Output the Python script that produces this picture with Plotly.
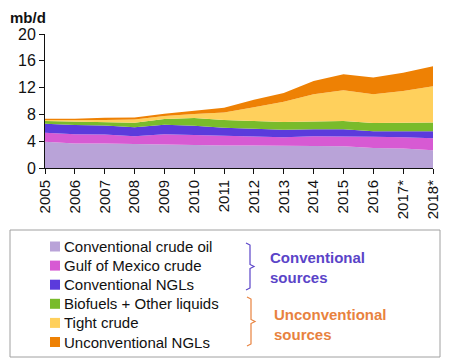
import plotly.graph_objects as go

years = ["2005", "2006", "2007", "2008", "2009", "2010", "2011", "2012",
         "2013", "2014", "2015", "2016", "2017*", "2018*"]

conv_crude = [3.9, 3.65, 3.65, 3.55, 3.45, 3.35, 3.35, 3.35, 3.35, 3.35, 3.25, 3.0, 2.9, 2.65]
gulf_mexico = [1.35, 1.4, 1.35, 1.2, 1.6, 1.6, 1.4, 1.3, 1.25, 1.4, 1.5, 1.65, 1.7, 1.8]
conv_ngl = [1.35, 1.35, 1.35, 1.35, 1.4, 1.35, 1.25, 1.2, 1.1, 1.05, 1.05, 0.85, 0.9, 1.05]
biofuels = [0.4, 0.5, 0.5, 0.65, 0.85, 1.15, 1.15, 1.1, 1.15, 1.15, 1.2, 1.2, 1.3, 1.3]
tight_crude = [0.15, 0.2, 0.3, 0.5, 0.45, 0.6, 1.15, 2.1, 3.05, 4.05, 4.6, 4.3, 4.7, 5.4]
unconv_ngl = [0.2, 0.25, 0.35, 0.3, 0.35, 0.5, 0.7, 1.15, 1.3, 2.0, 2.4, 2.5, 2.7, 3.0]

series_names = ["Conventional crude oil", "Gulf of Mexico crude", "Conventional NGLs",
                "Biofuels + Other liquids", "Tight crude", "Unconventional NGLs"]
series_values = [conv_crude, gulf_mexico, conv_ngl, biofuels, tight_crude, unconv_ngl]
series_colors = ["#b9a3d8", "#d75ad3", "#5b3bdc", "#79bb2b", "#ffd05c", "#ee8104"]

FONT = "Arial, Liberation Sans, sans-serif"
xs = list(range(len(years)))

fig = go.Figure()
for name, vals, col in zip(series_names, series_values, series_colors):
    fig.add_trace(go.Scatter(
        x=xs, y=vals, name=name, stackgroup="one", mode="lines",
        line=dict(width=0, color=col), fillcolor=col, showlegend=False,
        hoverinfo="skip"))

# page has an 8px body margin; work in page pixel coordinates
O = 8
PL, PR, PT, PB = 45, 433, 34, 168   # plot area on the page
W = 454 - O
H = 364 - O
L, R, T, B = PL - O, PR - O, PT - O, PB - O

def px(x):
    return (x - PL) / (PR - PL)

def py(y):
    return (PB - y) / (PB - PT)

shapes = [
    dict(type="rect", xref="paper", yref="paper",
         x0=px(10), x1=px(440), y0=py(230), y1=py(357),
         line=dict(color="#a0a0a0", width=1), fillcolor="rgba(0,0,0,0)"),
]

def brace(x0, x1, y0, y1, color):
    ym = (y0 + y1) / 2
    pts = [(x0, y0), (x0 + 4, y0 + 2), (x0 + 4, ym - 2), (x1, ym),
           (x0 + 4, ym + 2), (x0 + 4, y1 - 2), (x0, y1)]
    path = "M " + " L ".join(f"{px(a):.5f},{py(b):.5f}" for a, b in pts)
    return dict(type="path", xref="paper", yref="paper", path=path,
                line=dict(color=color, width=1.2))

shapes.append(brace(246, 254, 243, 290, "#5a44c8"))
shapes.append(brace(247, 255, 297, 346, "#e8823e"))

annotations = [
    dict(text="<b>mb/d</b>", xref="paper", yref="paper", x=px(9), y=py(8.5),
         xanchor="left", yanchor="top", showarrow=False, borderpad=0,
         font=dict(family=FONT, size=15, color="#111")),
    dict(text="<b>Conventional<br>sources</b>", xref="paper", yref="paper",
         x=px(268), y=py(267), xanchor="left", yanchor="middle", showarrow=False,
         align="left", font=dict(family=FONT, size=15, color="#5a44c8")),
    dict(text="<b>Unconventional<br>sources</b>", xref="paper", yref="paper",
         x=px(272), y=py(324), xanchor="left", yanchor="middle", showarrow=False,
         align="left", font=dict(family=FONT, size=15, color="#e8823e")),
]

# legend: colour squares + labels
row0, step = 246.5, 19.1
for i, (name, col) in enumerate(zip(series_names, series_colors)):
    yc = row0 + i * step
    shapes.append(dict(type="rect", xref="paper", yref="paper",
                       x0=px(50), x1=px(60), y0=py(yc - 5), y1=py(yc + 5),
                       line=dict(width=0), fillcolor=col))
    annotations.append(dict(text=name, xref="paper", yref="paper",
                            x=px(62), y=py(yc), xanchor="left", yanchor="middle",
                            showarrow=False,
                            font=dict(family=FONT, size=15, color="#111")))

fig.update_layout(
    width=W, height=H,
    margin=dict(l=L, r=W - R, t=T, b=H - B, autoexpand=False),
    paper_bgcolor="white", plot_bgcolor="white",
    font=dict(family=FONT, color="#111"),
    shapes=shapes, annotations=annotations,
    showlegend=False,
    xaxis=dict(range=[0, len(years) - 1], tickvals=xs, ticktext=years,
               tickangle=-90, showgrid=False, zeroline=False, automargin=False,
               showline=True, linecolor="#111", linewidth=1,
               ticks="outside", ticklen=5, tickcolor="#111",
               tickfont=dict(family=FONT, size=15, color="#111")),
    yaxis=dict(range=[0, 20], dtick=4, showgrid=False, zeroline=False, automargin=False,
               showline=True, linecolor="#111", linewidth=1,
               ticks="outside", ticklen=5, tickcolor="#111",
               tickfont=dict(family=FONT, size=16, color="#111")),
)

fig.write_html("out.html")
